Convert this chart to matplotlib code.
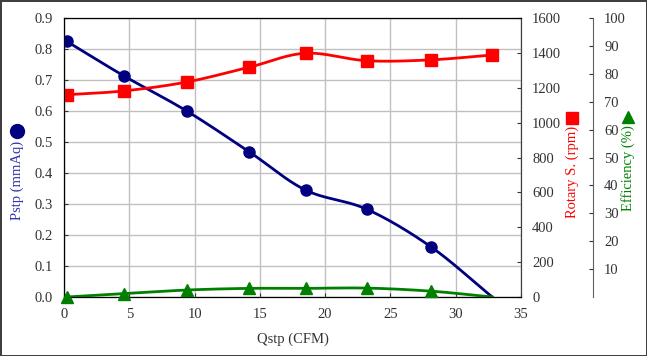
import numpy as np
import matplotlib
matplotlib.use("Agg")
from matplotlib import pyplot as plt
from matplotlib.lines import Line2D

# data
qstp = [0.2, 4.6, 9.4, 14.2, 18.5, 23.2, 28.1, 32.8]
pstp = [0.825, 0.713, 0.600, 0.468, 0.345, 0.283, 0.162, 0.0]
rpm = [1160, 1182, 1233, 1318, 1398, 1355, 1360, 1388]
eff = [0.0, 1.2, 2.5, 3.1, 3.1, 3.2, 2.1, 0.0]

x_ticks = [0, 5, 10, 15, 20, 25, 30, 35]
p_ticks = [0.0, 0.1, 0.2, 0.3, 0.4, 0.5, 0.6, 0.7, 0.8, 0.9]
r_ticks = [0, 200, 400, 600, 800, 1000, 1200, 1400, 1600]
e_ticks = [10, 20, 30, 40, 50, 60, 70, 80, 90, 100]


# smooth line through the points (catmull-rom, like the spreadsheet's smoothed line)
def smooth(xs, ys, n=30):
    xs = np.asarray(xs, float)
    ys = np.asarray(ys, float)
    px = np.concatenate([[2 * xs[0] - xs[1]], xs, [2 * xs[-1] - xs[-2]]])
    py = np.concatenate([[2 * ys[0] - ys[1]], ys, [2 * ys[-1] - ys[-2]]])
    outx, outy = [], []
    t = np.linspace(0, 1, n)
    for i in range(1, len(px) - 2):
        for p, out in ((px, outx), (py, outy)):
            p0, p1, p2, p3 = p[i - 1], p[i], p[i + 1], p[i + 2]
            out.extend(0.5 * ((2 * p1) + (-p0 + p2) * t
                              + (2 * p0 - 5 * p1 + 4 * p2 - p3) * t ** 2
                              + (-p0 + 3 * p1 - 3 * p2 + p3) * t ** 3))
    return outx, outy


plt.rcParams['font.family'] = ['Liberation Serif', 'DejaVu Serif']
plt.rcParams['font.size'] = 10.5

navy = "#000080"
red = "#ff0000"
green = "#008000"
tick_col = "#333333"

fig = plt.figure(figsize=(6.47, 3.56), dpi=100)
fig.patch.set_edgecolor("#404040")
fig.patch.set_linewidth(2)
ax = fig.add_axes([0.0989, 0.1657, 0.7063, 0.7837])

ax.set_xlim(0, 35)
ax.set_ylim(0, 0.9)
ax.set_xticks(x_ticks)
ax.set_yticks(p_ticks)
ax.set_yticklabels(["%.1f" % v for v in p_ticks])
ax.grid(True, color="#c0c0c0", linewidth=1)
ax.set_axisbelow(True)
ax.tick_params(direction="in", colors=tick_col, labelcolor=tick_col, pad=8, length=3)
for s in ax.spines.values():
    s.set_color("#404040")
ax.set_xlabel("Qstp (CFM)", color=tick_col, labelpad=8)

# pressure
sx, sy = smooth(qstp, pstp)
ax.plot(sx, sy, color=navy, linewidth=2, zorder=3)
ax.plot(qstp[:-1], pstp[:-1], "o", color=navy, markersize=8, zorder=4)

# rotary speed
ax2 = ax.twinx()
ax2.set_ylim(0, 1600)
ax2.set_yticks(r_ticks)
ax2.tick_params(direction="in", colors=tick_col, labelcolor=tick_col, pad=8, length=3)
for s in ax2.spines.values():
    s.set_color("#404040")
sx, sy = smooth(qstp, rpm)
ax2.plot(sx, sy, color=red, linewidth=2, zorder=3)
ax2.plot(qstp, rpm, "s", color=red, markersize=8, zorder=4)

# efficiency
ax3 = ax.twinx()
ax3.spines["right"].set_position(("axes", 1.1575))
ax3.spines["right"].set_color("#606060")
ax3.set_ylim(0, 100)
ax3.set_yticks(e_ticks)
ax3.tick_params(direction="in", colors=tick_col, labelcolor=tick_col, pad=8, length=3)
sx, sy = smooth(qstp, eff)
ax3.plot(sx, sy, color=green, linewidth=2, zorder=3)
ax3.plot(qstp[:-1], eff[:-1], "^", color=green, markersize=8, zorder=4, clip_on=False)

# axis titles with their marker
fig.text(17 / 647, 1 - 180 / 356, "Pstp (mmAq)", rotation=90, color="#3333aa",
         ha="center", va="center")
fig.add_artist(Line2D([17 / 647], [1 - 131 / 356], marker="o", color=navy,
                      markersize=10, transform=fig.transFigure))
fig.text(572 / 647, 1 - 172 / 356, "Rotary S. (rpm)", rotation=90, color=red,
         ha="center", va="center")
fig.add_artist(Line2D([572 / 647], [1 - 118 / 356], marker="s", color=red,
                      markersize=9, transform=fig.transFigure))
fig.text(628 / 647, 1 - 168 / 356, "Efficiency (%)", rotation=90, color=green,
         ha="center", va="center")
fig.add_artist(Line2D([628 / 647], [1 - 117 / 356], marker="^", color=green,
                      markersize=9, transform=fig.transFigure))

fig.savefig("out.png", dpi=100, edgecolor=fig.get_edgecolor())
